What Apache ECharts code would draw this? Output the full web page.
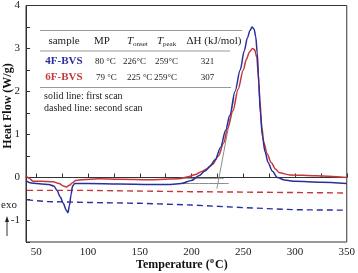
<!DOCTYPE html>
<html><head><meta charset="utf-8">
<script src="https://cdn.jsdelivr.net/npm/echarts@6/dist/echarts.min.js"></script>
<style>html,body{margin:0;padding:0;background:#fff}#c{width:358px;height:273px}</style>
</head><body><div id="c"></div>
<script>
// Data
const blueFirst = [[40,-0.08],[45,-0.13],[55,-0.15],[62,-0.16],[67,-0.2],[70,-0.3],[73,-0.45],[76,-0.6],[79,-0.76],[80.5,-0.82],[82,-0.65],[83.5,-0.4],[85,-0.2],[87,-0.14],[100,-0.14],[130,-0.15],[160,-0.16],[180,-0.16],[190,-0.14],[200,-0.07],[207,0.04],[213,0.15],[218,0.27],[223,0.42],[228,0.7],[233,1.1],[237,1.45],[242,2.0],[247,2.5],[251,2.95],[254,3.25],[256.5,3.42],[258.5,3.5],[260.5,3.45],[262,3.28],[263.5,2.9],[265,2.2],[266.5,1.5],[268.5,0.95],[271,0.6],[274,0.35],[278,0.15],[283,0.0],[290,-0.06],[300,-0.09],[325,-0.11],[350,-0.14]];
const redFirst = [[40,0.05],[43,-0.02],[47,-0.09],[55,-0.09],[66,-0.1],[72,-0.14],[76,-0.2],[79,-0.22],[82,-0.18],[85,-0.12],[88,-0.07],[95,-0.05],[110,-0.03],[130,-0.04],[160,-0.05],[188,-0.03],[197,0.02],[204,0.07],[210,0.14],[215,0.2],[220,0.3],[226,0.5],[231,0.8],[235,1.15],[240,1.55],[245,2.05],[250,2.5],[253,2.75],[256,2.92],[259,3.0],[261,2.97],[263,2.8],[264.5,2.4],[266,1.8],[268,1.15],[270,0.8],[273,0.55],[277,0.35],[281,0.2],[285,0.11],[295,0.06],[320,0.04],[350,0.0]];
const redSecond = [[41,-0.3],[100,-0.3],[200,-0.33],[300,-0.35],[350,-0.36]];
const blueSecond = [[41,-0.52],[60,-0.56],[100,-0.58],[150,-0.6],[200,-0.64],[250,-0.7],[300,-0.75],[350,-0.76]];
const tangentLine = [[224.5,-0.26],[241,1.85]];
const redBaseline = [[188,-0.02],[231,-0.02]];
const blueBaseline = [[188,-0.14],[236,-0.14]];
const xTicks = [50,75,100,125,150,175,200,225,250,275,300,325,350];
const xLabels = [50,100,150,200,250,300,350];
const tableHeader = ['sample','MP','T|onset','T|peak','ΔH (kJ/mol)'];
const row4F = ['4F-BVS','80 °C','226°C','259°C','321'];
const row6F = ['6F-BVS','79 °C','225 °C','259°C','307'];

const BLUE = '#2b2f9c', RED = '#c4373b', GRAY = '#8a8a8a';
const F = 'Liberation Serif';
const chart = echarts.init(document.getElementById('c'), null, {renderer:'canvas'});

function txt(x, y, text, opts) {
  return {type:'text', x:x, y:y, style:Object.assign({text:text, font:'11px "Liberation Serif"', fill:'#222', align:'center', verticalAlign:'middle'}, opts||{})};
}
function hline(x1, x2, y) {
  return {type:'line', shape:{x1:x1,y1:y,x2:x2,y2:y}, style:{stroke:'#999', lineWidth:1}};
}
function tsub(x, y, s) {
  const p = s.split('|');
  return [
    {type:'text', x:x, y:y, style:{text:p[0], font:'italic 11px "Liberation Serif"', fill:'#222', align:'left', verticalAlign:'middle'}},
    {type:'text', x:x+6, y:y+3, style:{text:p[1], font:'7px "Liberation Serif"', fill:'#222', align:'left', verticalAlign:'middle'}}
  ];
}
const headerY = 41, row1Y = 61.5, row2Y = 77.5;
const graphics = [
  hline(40,242,30.5), hline(40,230,51), hline(40,231,87.5),
  txt(64,headerY,tableHeader[0]),
  txt(102,headerY,tableHeader[1]),
  ...tsub(127,headerY,tableHeader[2]),
  ...tsub(157,headerY,tableHeader[3]),
  txt(214,headerY,tableHeader[4]),
  txt(64,row1Y,row4F[0],{fill:BLUE, font:'bold 11px "Liberation Serif"'}),
  txt(64,row2Y,row6F[0],{fill:RED, font:'bold 11px "Liberation Serif"'}),
  txt(95,row1Y,row4F[1],{font:'9px "Liberation Serif"', align:'left'}),
  txt(123,row1Y,row4F[2],{font:'9px "Liberation Serif"', align:'left'}),
  txt(155,row1Y,row4F[3],{font:'9px "Liberation Serif"', align:'left'}),
  txt(207.5,row1Y,row4F[4],{font:'9px "Liberation Serif"'}),
  txt(96,row2Y,row6F[1],{font:'9px "Liberation Serif"', align:'left'}),
  txt(127,row2Y,row6F[2],{font:'9px "Liberation Serif"', align:'left'}),
  txt(154,row2Y,row6F[3],{font:'9px "Liberation Serif"', align:'left'}),
  txt(207.5,row2Y,row6F[4],{font:'9px "Liberation Serif"'}),
  {type:'text', x:8, y:106, rotation:Math.PI/2, style:{text:'Heat Flow (W/g)', font:'bold 12px "Liberation Serif"', fill:'#111', align:'center', verticalAlign:'middle'}},
  {type:'text', x:136, y:265, style:{text:'Temperature (', font:'bold 12px "Liberation Serif"', fill:'#111', align:'left', verticalAlign:'middle'}},
  {type:'text', x:210, y:261, style:{text:'o', font:'bold 8px "Liberation Serif"', fill:'#111', align:'left', verticalAlign:'middle'}},
  {type:'text', x:215, y:265, style:{text:'C)', font:'bold 12px "Liberation Serif"', fill:'#111', align:'left', verticalAlign:'middle'}},
  txt(9,205,'exo',{font:'11px "Liberation Serif"'}),
  {type:'line', shape:{x1:7,y1:220,x2:7,y2:236}, style:{stroke:'#333', lineWidth:1}},
  {type:'polygon', shape:{points:[[7,216],[5,222],[9,222]]}, style:{fill:'#222'}},
  {type:'text', x:44, y:96, style:{text:'solid line: first scan', font:'10px "Liberation Serif"', fill:'#222', align:'left', verticalAlign:'middle'}},
  {type:'text', x:44, y:108, style:{text:'dashed line: second scan', font:'10px "Liberation Serif"', fill:'#222', align:'left', verticalAlign:'middle'}}
];

function line(data, color, dashed, w) {
  return {type:'line', data:data, showSymbol:false, symbol:'none', smooth:dashed?false:0.3, smoothMonotone:'x',
    lineStyle:{color:color, width:w||1.4, type:dashed?[6,4]:'solid'}, silent:true, z:3};
}

chart.setOption({
  animation:false,
  backgroundColor:'#fff',
  grid:{left:26, right:9, top:5, bottom:31, show:true, borderColor:'#333', borderWidth:1},
  xAxis:{type:'value', min:40, max:350,
    axisLine:{lineStyle:{color:'#333'}},
    axisTick:{inside:true, length:4, customValues:xTicks, lineStyle:{color:'#333'}},
    axisLabel:{customValues:xLabels, fontFamily:F, fontSize:11, color:'#222', margin:5},
    splitLine:{show:false}},
  yAxis:{type:'value', min:-1.5, max:4, interval:0.5,
    axisLine:{show:true, lineStyle:{color:'#333'}},
    axisTick:{show:true, inside:true, length:4, lineStyle:{color:'#333'}},
    axisLabel:{fontFamily:F, fontSize:11, color:'#222', margin:6, formatter:function(v){return Number.isInteger(v)?String(v):'';}},
    splitLine:{show:false}},
  series:[
    line(tangentLine, GRAY, false, 1),
    line(redBaseline, GRAY, false, 1),
    line(blueBaseline, GRAY, false, 1),
    line(redSecond, RED, true, 1.4),
    line(blueSecond, BLUE, true, 1.4),
    line(redFirst, RED, false, 1.5),
    line(blueFirst, BLUE, false, 1.5)
  ],
  graphic:graphics
});
</script></body></html>
